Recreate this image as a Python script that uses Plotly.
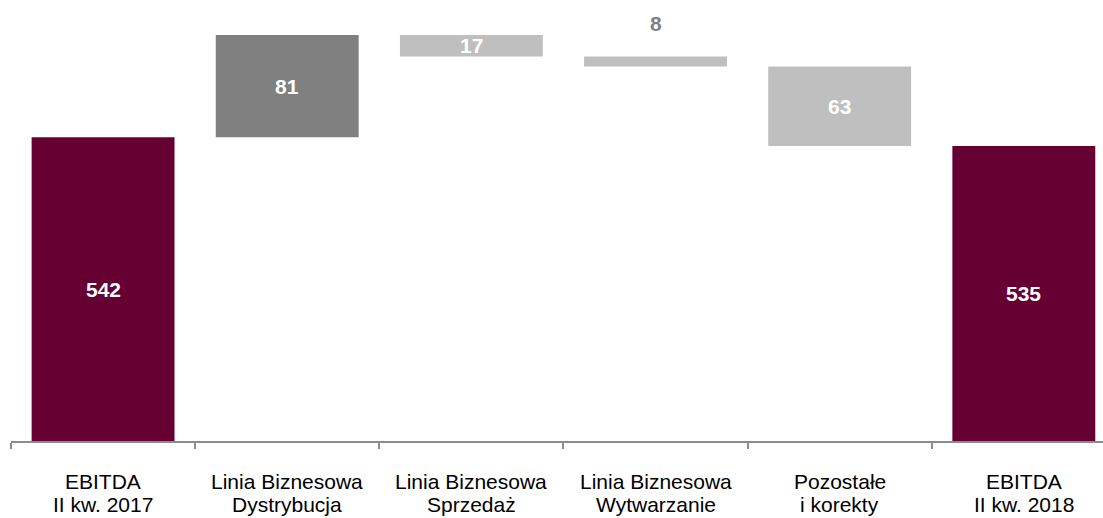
import plotly.graph_objects as go

# EBITDA bridge: Q2 2017 -> Q2 2018 (mln zł)
category_lines = [
    ("EBITDA", "II kw. 2017"),
    ("Linia Biznesowa", "Dystrybucja"),
    ("Linia Biznesowa", "Sprzedaż"),
    ("Linia Biznesowa", "Wytwarzanie"),
    ("Pozostałe", "i korekty"),
    ("EBITDA", "II kw. 2018"),
]
categories = ["<br>".join(c) for c in category_lines]
start_value = 542
changes = [81, -17, -8, -63]
end_value = 535

# value axis starts above zero (broken axis)
axis_floor = 301
axis_top = 650.8

MAROON = "#660033"
DARK_GREY = "#808080"
LIGHT_GREY = "#BFBFBF"
FONT = "Liberation Sans, Arial, sans-serif"

# build floating bars from the running total
bases, heights, colors = [0], [start_value], [MAROON]
running = start_value
for d in changes:
    new = running + d
    bases.append(min(running, new))
    heights.append(abs(d))
    colors.append(DARK_GREY if d > 0 else LIGHT_GREY)
    running = new
bases.append(0)
heights.append(end_value)
colors.append(MAROON)

fig = go.Figure(
    go.Bar(
        x=categories,
        y=heights,
        base=bases,
        marker=dict(color=colors, line=dict(width=0)),
        width=0.776,
        hoverinfo="skip",
    )
)

annotations = []
label_font = dict(family=FONT, size=21, color="white")
for i, (b, h) in enumerate(zip(bases, heights)):
    if i in (0, len(heights) - 1):
        # centred in the visible part of the total bar
        y = (axis_floor + h) / 2
        annotations.append(dict(x=categories[i], y=y, text=f"<b>{h}</b>", showarrow=False,
                                font=label_font, yanchor="middle"))
    elif h < 12:
        annotations.append(dict(x=categories[i], y=b + h, text=f"<b>{h}</b>", showarrow=False,
                                font=dict(label_font, color="#7F7F7F"), yanchor="middle",
                                yshift=32.5))
    else:
        annotations.append(dict(x=categories[i], y=b + h / 2, text=f"<b>{h}</b>", showarrow=False,
                                font=label_font, yanchor="middle"))

# two-line category captions under the axis
plot_h = 441
for cat, (line1, line2) in zip(categories, category_lines):
    for text, px in ((line1, 481.0), (line2, 504.5)):
        annotations.append(dict(x=cat, xref="x", yref="paper", y=(plot_h - px) / plot_h,
                                text=text, showarrow=False, yanchor="middle",
                                font=dict(family=FONT, size=21, color="#000000")))

fig.update_layout(
    width=1103,
    height=518,
    margin=dict(l=11, r=0, t=0, b=77),
    paper_bgcolor="white",
    plot_bgcolor="white",
    showlegend=False,
    bargap=0.224,
    annotations=annotations,
    font=dict(family=FONT, size=21, color="#000000"),
    xaxis=dict(
        type="category",
        range=[-0.5, 5.43],
        showline=True,
        linecolor="#8C8C8C",
        linewidth=1.5,
        ticks="outside",
        tickson="boundaries",
        ticklen=6,
        tickwidth=1.5,
        tickcolor="#8C8C8C",
        showgrid=False,
        zeroline=False,
        showticklabels=False,
        fixedrange=True,
    ),
    yaxis=dict(
        range=[axis_floor, axis_top],
        visible=False,
        showgrid=False,
        zeroline=False,
        fixedrange=True,
    ),
)

fig.write_html("out.html")
